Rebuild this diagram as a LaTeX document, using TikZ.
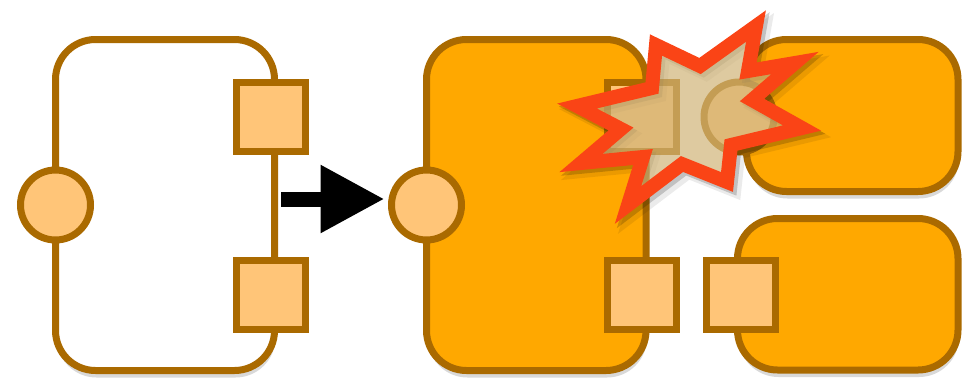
\documentclass[tikz,border=0pt]{standalone}
\usepackage{tikz}
\usetikzlibrary{positioning,arrows.meta,shadows}
\definecolor{CompLine}{RGB}{170,106,0}
\definecolor{CompFill}{RGB}{255,168,0}
\definecolor{PortFill}{RGB}{255,197,120}
\definecolor{BangRed}{RGB}{250,68,22}
\definecolor{BangFill}{RGB}{208,180,120}

\begin{document}
\begin{tikzpicture}[x=1pt, y=-1pt,
    comp/.style   ={draw=CompLine, line width=7pt, rounded corners=40pt, inner sep=0pt, outer sep=0pt,
                    fill=white, drop shadow={shadow xshift=1pt, shadow yshift=-7pt, opacity=0.15, fill=black}},
    compon/.style ={comp, fill=CompFill},
    port/.style   ={draw=CompLine, line width=7pt, fill=PortFill, inner sep=0pt, outer sep=0pt},
    inport/.style ={port, circle, minimum size=70pt},
    outport/.style={port, rectangle, minimum size=69pt},
    bigarrow/.style={-{Triangle[length=64pt, width=64pt]}, line width=15pt, black},
    bangshade/.style={draw=black, line join=miter, transform canvas={xshift=#1pt, yshift=-#1pt}},
    bang/.style   ={draw=BangRed, line width=14pt, line join=miter, fill=BangFill, fill opacity=0.7,
                    preaction={bangshade=6, draw opacity=0.08, line width=17pt},
                    preaction={bangshade=3, draw opacity=0.18, line width=15pt}},
  ]
  \useasboundingbox (0,0) rectangle (963,378);

  % ─ old component ─
  \node[comp, minimum width=219pt, minimum height=331pt] (oldcomp) at (165,205) {};
  \node[inport]  (oldin)   at (oldcomp.west) {};
  \node[outport] (oldout1) at ([xshift=-4pt, yshift=88pt]oldcomp.east) {};
  \node[outport] (oldout2) at ([xshift=-4pt, yshift=-90pt]oldcomp.east) {};

  % ─ new component ─
  \node[compon, minimum width=219.5pt, minimum height=331pt, right=152pt of oldcomp] (newcomp) {};
  \node[inport]  (newin)   at (newcomp.west) {};
  \node[outport] (newout1) at ([xshift=-4.5pt, yshift=88pt]newcomp.east) {};
  \node[outport] (newout2) at ([xshift=-4.5pt, yshift=-90pt]newcomp.east) {};

  % ─ neighbours ─
  \node[compon, minimum width=211.5pt, minimum height=152pt] (peer) at (852.25,115.5) {};
  \node[inport]  (peerin)  at ([xshift=-7.5pt, yshift=-1.5pt]peer.west) {};
  \node[compon, minimum width=220.5pt, minimum height=151.5pt] (sink) at (847.75,294.25) {};
  \node[outport] (sinkin)  at ([xshift=3.5pt, yshift=-1pt]sink.west) {};

  % ─ replace ─
  \draw[bigarrow] ([xshift=6.5pt, yshift=6pt]oldcomp.east) -- ([xshift=-7pt, yshift=6pt]newin.west);

  % ─ clash ─
  \draw[bang] (656,45) -- (700,66) -- (756,26) -- (748,71) -- (795,63) -- (752,100)
    -- (802,128) -- (731,145) -- (727,182) -- (682,164) -- (628,205) -- (643,157)
    -- (581,163) -- (621,129) -- (577,106) -- (652,88) -- cycle;
\end{tikzpicture}
\end{document}
